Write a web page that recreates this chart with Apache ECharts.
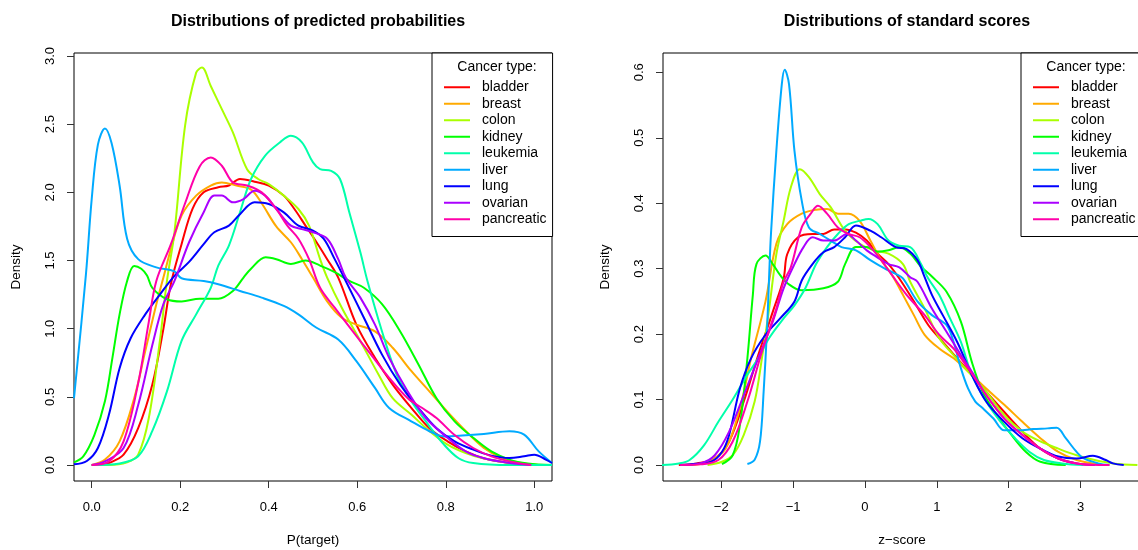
<!DOCTYPE html>
<html><head><meta charset="utf-8">
<script src="https://cdn.jsdelivr.net/npm/echarts@6/dist/echarts.min.js"></script>
<style>html,body{margin:0;padding:0;background:#fff}#c{width:1138px;height:550px}</style>
</head><body><div id="c"></div><script>
const cancerTypes = ['bladder','breast','colon','kidney','leukemia','liver','lung','ovarian','pancreatic'];
const colors = ['#FF0000','#FFAA00','#AAFF00','#00FF00','#00FFAA','#00AAFF','#0000FF','#AA00FF','#FF00AA'];

const probXTicks = [0, 0.2, 0.4, 0.6, 0.8, 1.0];
const probYTicks = [0, 0.5, 1.0, 1.5, 2.0, 2.5, 3.0];
const zXTicks = [-2, -1, 0, 1, 2, 3];
const zYTicks = [0, 0.1, 0.2, 0.3, 0.4, 0.5, 0.6];

// Left panel: density of predicted probabilities  [P(target), density]
const probBladder = [[0,0],[0.02,0.003],[0.039,0.015],[0.072,0.076],[0.105,0.27],[0.137,0.59],[0.162,1.0],[0.179,1.33],[0.203,1.62],[0.228,1.88],[0.253,2.0],[0.286,2.037],[0.31,2.05],[0.335,2.098],[0.368,2.078],[0.40,2.05],[0.434,1.976],[0.458,1.878],[0.483,1.756],[0.508,1.634],[0.532,1.51],[0.557,1.375],[0.598,1.03],[0.64,0.787],[0.68,0.59],[0.722,0.42],[0.763,0.27],[0.804,0.174],[0.845,0.10],[0.886,0.05],[0.944,0.015],[0.993,0]];
const probBreast = [[0,0],[0.03,0.04],[0.063,0.174],[0.096,0.49],[0.121,0.836],[0.146,1.18],[0.162,1.375],[0.179,1.585],[0.203,1.83],[0.236,1.976],[0.269,2.05],[0.294,2.073],[0.327,2.05],[0.36,2.02],[0.384,1.92],[0.417,1.75],[0.45,1.634],[0.475,1.51],[0.50,1.375],[0.532,1.20],[0.565,1.08],[0.598,1.03],[0.64,0.98],[0.68,0.86],[0.722,0.69],[0.763,0.54],[0.804,0.39],[0.845,0.25],[0.886,0.125],[0.928,0.05],[0.969,0.015],[1.01,0]];
const probColon = [[0,0],[0.039,0],[0.08,0.02],[0.105,0.076],[0.129,0.345],[0.154,0.91],[0.17,1.35],[0.187,1.707],[0.211,2.49],[0.236,2.878],[0.249,2.915],[0.269,2.78],[0.294,2.61],[0.319,2.44],[0.351,2.17],[0.376,2.098],[0.40,2.06],[0.434,1.976],[0.467,1.878],[0.491,1.756],[0.516,1.51],[0.532,1.375],[0.565,1.154],[0.607,0.91],[0.648,0.664],[0.68,0.49],[0.722,0.37],[0.763,0.25],[0.804,0.15],[0.845,0.088],[0.886,0.047],[0.944,0.015],[0.993,0]];
const probKidney = [[-0.04,0.02],[-0.019,0.064],[0.006,0.22],[0.03,0.47],[0.047,0.79],[0.063,1.105],[0.08,1.35],[0.096,1.46],[0.112,1.44],[0.125,1.39],[0.137,1.30],[0.17,1.216],[0.203,1.20],[0.244,1.22],[0.286,1.22],[0.319,1.277],[0.343,1.375],[0.36,1.44],[0.393,1.524],[0.417,1.51],[0.45,1.475],[0.483,1.50],[0.516,1.463],[0.549,1.415],[0.582,1.35],[0.615,1.30],[0.656,1.18],[0.697,0.98],[0.738,0.74],[0.779,0.49],[0.82,0.32],[0.862,0.20],[0.903,0.10],[0.944,0.04],[0.985,0.012],[1.04,0]];
const probLeukemia = [[0,0],[0.063,0.012],[0.105,0.064],[0.137,0.25],[0.17,0.54],[0.203,0.91],[0.236,1.105],[0.269,1.30],[0.286,1.463],[0.31,1.61],[0.335,1.854],[0.36,2.098],[0.392,2.27],[0.425,2.366],[0.45,2.415],[0.475,2.366],[0.50,2.22],[0.516,2.17],[0.541,2.158],[0.561,2.098],[0.582,1.854],[0.607,1.56],[0.623,1.35],[0.656,0.98],[0.689,0.664],[0.722,0.47],[0.755,0.32],[0.796,0.15],[0.829,0.05],[0.862,0.015],[0.944,0],[1.04,0]];
const probLiver = [[-0.04,0.49],[-0.013,1.40],[0,1.95],[0.014,2.35],[0.03,2.468],[0.045,2.36],[0.063,2.05],[0.08,1.66],[0.105,1.51],[0.146,1.45],[0.187,1.42],[0.203,1.37],[0.253,1.35],[0.286,1.326],[0.335,1.277],[0.384,1.228],[0.434,1.167],[0.467,1.105],[0.508,1.007],[0.557,0.92],[0.598,0.762],[0.64,0.566],[0.672,0.419],[0.722,0.321],[0.763,0.248],[0.796,0.21],[0.837,0.216],[0.886,0.228],[0.944,0.248],[0.977,0.223],[1.01,0.10],[1.04,0.015]];
const probLung = [[-0.04,0.005],[-0.011,0.03],[0.014,0.125],[0.039,0.37],[0.063,0.71],[0.088,0.93],[0.121,1.105],[0.154,1.25],[0.187,1.387],[0.22,1.49],[0.253,1.62],[0.277,1.707],[0.31,1.756],[0.335,1.84],[0.368,1.927],[0.40,1.915],[0.434,1.853],[0.467,1.756],[0.50,1.72],[0.524,1.66],[0.549,1.51],[0.574,1.35],[0.615,1.08],[0.656,0.81],[0.697,0.59],[0.738,0.42],[0.779,0.27],[0.82,0.174],[0.862,0.113],[0.903,0.069],[0.944,0.051],[0.977,0.064],[1.0,0.076],[1.026,0.04],[1.04,0.015]];
const probOvarian = [[0,0],[0.03,0.027],[0.072,0.125],[0.105,0.44],[0.137,0.88],[0.162,1.18],[0.187,1.35],[0.22,1.634],[0.253,1.854],[0.277,1.976],[0.294,1.976],[0.319,1.927],[0.343,1.951],[0.368,2.012],[0.392,1.976],[0.417,1.878],[0.45,1.756],[0.475,1.73],[0.50,1.707],[0.532,1.66],[0.557,1.51],[0.574,1.375],[0.607,1.228],[0.64,1.03],[0.672,0.787],[0.714,0.54],[0.755,0.345],[0.804,0.2],[0.845,0.10],[0.886,0.05],[0.944,0.015],[0.993,0]];
const probPancreatic = [[0,0],[0.039,0.027],[0.072,0.174],[0.105,0.60],[0.129,1.05],[0.146,1.35],[0.179,1.62],[0.211,1.92],[0.244,2.19],[0.269,2.256],[0.294,2.195],[0.319,2.073],[0.351,2.05],[0.384,2.0],[0.417,1.878],[0.442,1.756],[0.467,1.66],[0.491,1.51],[0.516,1.30],[0.549,1.154],[0.59,0.98],[0.631,0.81],[0.672,0.64],[0.714,0.49],[0.746,0.42],[0.779,0.345],[0.82,0.22],[0.862,0.125],[0.903,0.064],[0.944,0.027],[0.993,0]];

// Right panel: density of standard scores  [z-score, density]
const zBladder = [[-2.59,0],[-2.34,0.0025],[-2.09,0.01],[-1.89,0.036],[-1.686,0.097],[-1.485,0.168],[-1.283,0.234],[-1.132,0.285],[-1.082,0.322],[-0.931,0.348],[-0.73,0.353],[-0.579,0.353],[-0.428,0.36],[-0.277,0.36],[-0.126,0.355],[0.025,0.343],[0.176,0.323],[0.327,0.307],[0.478,0.285],[0.68,0.25],[0.88,0.214],[1.082,0.188],[1.283,0.163],[1.485,0.138],[1.686,0.112],[1.938,0.081],[2.19,0.051],[2.44,0.025],[2.69,0.01],[2.944,0.0025],[3.196,0]];
const zBreast = [[-2.44,0],[-2.19,0.005],[-1.94,0.025],[-1.74,0.087],[-1.585,0.163],[-1.384,0.25],[-1.233,0.338],[-1.082,0.368],[-0.88,0.384],[-0.68,0.39],[-0.528,0.391],[-0.377,0.384],[-0.226,0.384],[-0.075,0.373],[0.075,0.343],[0.226,0.313],[0.377,0.29],[0.528,0.26],[0.68,0.229],[0.83,0.199],[1.032,0.178],[1.233,0.163],[1.434,0.143],[1.686,0.117],[1.938,0.092],[2.19,0.066],[2.44,0.041],[2.69,0.02],[2.944,0.0076],[3.246,0.001],[3.4,0]];
const zColon = [[-2.19,0],[-1.99,0.005],[-1.84,0.015],[-1.686,0.046],[-1.535,0.097],[-1.434,0.163],[-1.333,0.239],[-1.233,0.322],[-1.132,0.373],[-1.032,0.424],[-0.906,0.452],[-0.78,0.44],[-0.629,0.414],[-0.478,0.394],[-0.277,0.358],[-0.075,0.338],[0.126,0.328],[0.327,0.323],[0.528,0.307],[0.629,0.28],[0.83,0.239],[1.032,0.194],[1.233,0.168],[1.434,0.143],[1.686,0.112],[1.938,0.076],[2.19,0.051],[2.44,0.036],[2.69,0.025],[2.944,0.015],[3.196,0.0076],[3.45,0.0025],[3.79,0]];
const zKidney = [[-1.99,0.0015],[-1.84,0.015],[-1.74,0.061],[-1.636,0.163],[-1.56,0.26],[-1.51,0.307],[-1.384,0.32],[-1.283,0.307],[-1.18,0.29],[-1.082,0.278],[-0.88,0.267],[-0.579,0.27],[-0.377,0.28],[-0.277,0.307],[-0.126,0.333],[0.025,0.333],[0.176,0.326],[0.327,0.328],[0.478,0.333],[0.629,0.323],[0.78,0.303],[0.931,0.288],[1.132,0.265],[1.334,0.219],[1.485,0.158],[1.636,0.112],[1.837,0.076],[2.038,0.046],[2.24,0.02],[2.44,0.005],[2.793,0]];
const zLeukemia = [[-2.85,0],[-2.59,0.0025],[-2.44,0.0076],[-2.24,0.03],[-2.04,0.066],[-1.84,0.10],[-1.636,0.138],[-1.485,0.163],[-1.333,0.194],[-1.132,0.224],[-0.981,0.244],[-0.83,0.27],[-0.68,0.307],[-0.528,0.333],[-0.377,0.353],[-0.226,0.368],[-0.075,0.373],[0.05,0.376],[0.176,0.368],[0.327,0.343],[0.478,0.335],[0.629,0.333],[0.78,0.307],[0.88,0.285],[1.032,0.26],[1.183,0.224],[1.334,0.188],[1.485,0.138],[1.686,0.097],[1.887,0.066],[2.088,0.041],[2.29,0.02],[2.49,0.0076],[2.74,0.0025],[3.04,0]];
const zLiver = [[-1.636,0.0015],[-1.535,0.008],[-1.46,0.036],[-1.41,0.112],[-1.36,0.214],[-1.333,0.29],[-1.308,0.353],[-1.233,0.48],[-1.157,0.582],[-1.117,0.604],[-1.057,0.582],[-0.981,0.48],[-0.88,0.404],[-0.78,0.363],[-0.629,0.353],[-0.478,0.343],[-0.327,0.333],[-0.126,0.328],[0.075,0.313],[0.277,0.30],[0.428,0.292],[0.528,0.285],[0.73,0.25],[0.931,0.229],[1.132,0.214],[1.233,0.188],[1.334,0.148],[1.434,0.117],[1.535,0.097],[1.636,0.087],[1.787,0.071],[1.938,0.053],[2.139,0.053],[2.34,0.055],[2.541,0.056],[2.667,0.057],[2.793,0.041],[2.944,0.02],[3.045,0.01],[3.246,0.0025],[3.4,0]];
const zLung = [[-2.57,0],[-2.34,0.002],[-2.14,0.005],[-1.99,0.02],[-1.89,0.046],[-1.74,0.117],[-1.585,0.163],[-1.384,0.199],[-1.18,0.224],[-0.981,0.25],[-0.88,0.282],[-0.73,0.307],[-0.579,0.325],[-0.428,0.333],[-0.277,0.348],[-0.126,0.366],[0.075,0.358],[0.226,0.348],[0.428,0.333],[0.579,0.33],[0.73,0.313],[0.83,0.287],[0.931,0.26],[1.082,0.229],[1.283,0.188],[1.485,0.138],[1.686,0.097],[1.938,0.066],[2.19,0.041],[2.44,0.025],[2.69,0.013],[2.944,0.01],[3.17,0.014],[3.35,0.0076],[3.45,0.0025],[3.6,0]];
const zOvarian = [[-2.57,0],[-2.29,0.0025],[-2.09,0.015],[-1.89,0.051],[-1.686,0.107],[-1.485,0.163],[-1.283,0.219],[-1.132,0.27],[-0.981,0.307],[-0.855,0.333],[-0.73,0.348],[-0.579,0.343],[-0.428,0.343],[-0.25,0.353],[-0.126,0.343],[0.025,0.328],[0.176,0.317],[0.327,0.307],[0.478,0.302],[0.629,0.287],[0.73,0.28],[0.931,0.239],[1.132,0.204],[1.334,0.168],[1.485,0.143],[1.686,0.107],[1.938,0.071],[2.19,0.046],[2.44,0.025],[2.69,0.01],[2.944,0.0025],[3.196,0]];
const zPancreatic = [[-2.57,0],[-2.29,0.001],[-2.04,0.0076],[-1.84,0.036],[-1.636,0.097],[-1.434,0.173],[-1.233,0.239],[-1.132,0.28],[-1.032,0.302],[-0.88,0.363],[-0.755,0.384],[-0.654,0.396],[-0.528,0.384],[-0.377,0.363],[-0.226,0.353],[-0.075,0.348],[0.075,0.333],[0.226,0.313],[0.377,0.29],[0.579,0.26],[0.83,0.229],[1.032,0.199],[1.233,0.178],[1.434,0.148],[1.686,0.107],[1.938,0.071],[2.19,0.046],[2.44,0.025],[2.69,0.01],[2.944,0.0025],[3.4,0]];

const probSeries = [probBladder, probBreast, probColon, probKidney, probLeukemia, probLiver, probLung, probOvarian, probPancreatic];
const zSeries = [zBladder, zBreast, zColon, zKidney, zLeukemia, zLiver, zLung, zOvarian, zPancreatic];

const FONT = '"Liberation Sans", Arial, Helvetica, sans-serif';
const tickTxt = {fontFamily: FONT, color: '#000', fontSize: 13};
const nameTxt = {fontFamily: FONT, color: '#000', fontSize: 13.5};
const legTxt = {fontFamily: FONT, color: '#000', fontSize: 14};

function xAx(grid, min, max, ticks, fmt, name) {
  return {
    type: 'value', gridIndex: grid, min: min, max: max,
    axisLine: {show: false, onZero: false}, splitLine: {show: false},
    axisTick: {show: true, length: 7, customValues: ticks, lineStyle: {color: '#333'}},
    axisLabel: Object.assign({customValues: ticks, formatter: fmt, margin: 20}, tickTxt),
    name: name, nameLocation: 'middle', nameGap: 52, nameTextStyle: nameTxt
  };
}
function yAx(grid, min, max, ticks, fmt) {
  return {
    type: 'value', gridIndex: grid, min: min, max: max,
    axisLine: {show: false, onZero: false}, splitLine: {show: false},
    axisTick: {show: true, length: 7, customValues: ticks, lineStyle: {color: '#333'}},
    axisLabel: Object.assign({customValues: ticks, formatter: fmt, margin: 17, rotate: 90}, tickTxt),
    name: 'Density', nameLocation: 'middle', nameGap: 51, nameTextStyle: nameTxt
  };
}
const fmt1 = v => v.toFixed(1);
const fmtZ = v => (v < 0 ? '\u2212' + Math.abs(v) : String(v));

function legendAt(left) {
  return {
    left: left, top: 53, orient: 'vertical', data: cancerTypes, icon: 'rect',
    itemWidth: 26, itemHeight: 2, itemGap: 0, padding: [26, 6, 9, 12],
    borderColor: '#000', borderWidth: 1, backgroundColor: '#fff', selectedMode: false,
    textStyle: Object.assign({lineHeight: 16.5, padding: [0, 0, 0, 7]}, legTxt)
  };
}

const series = [];
cancerTypes.forEach((name, i) => {
  series.push({name: name, type: 'line', xAxisIndex: 0, yAxisIndex: 0, data: probSeries[i],
    showSymbol: false, symbol: 'none', smooth: 0.35, clip: true,
    lineStyle: {color: colors[i], width: 2}, itemStyle: {color: colors[i]}, emphasis: {disabled: true}});
});
cancerTypes.forEach((name, i) => {
  series.push({name: name, type: 'line', xAxisIndex: 1, yAxisIndex: 1, data: zSeries[i],
    showSymbol: false, symbol: 'none', smooth: 0.35, clip: true,
    lineStyle: {color: colors[i], width: 2}, itemStyle: {color: colors[i]}, emphasis: {disabled: true}});
});

const chart = echarts.init(document.getElementById('c'), null, {renderer: 'canvas'});
chart.setOption({
  animation: false,
  backgroundColor: '#fff',
  title: [
    {text: 'Distributions of predicted probabilities', left: 313, top: 9, textAlign: 'center',
     textStyle: {fontFamily: FONT, fontSize: 16, fontWeight: 'bold', color: '#000'}},
    {text: 'Distributions of standard scores', left: 902, top: 9, textAlign: 'center',
     textStyle: {fontFamily: FONT, fontSize: 16, fontWeight: 'bold', color: '#000'}},
    {text: 'Cancer type:', left: 492, top: 55, textAlign: 'center', z: 10,
     textStyle: {fontFamily: FONT, fontSize: 14, fontWeight: 'normal', color: '#000'}},
    {text: 'Cancer type:', left: 1081, top: 55, textAlign: 'center', z: 10,
     textStyle: {fontFamily: FONT, fontSize: 14, fontWeight: 'normal', color: '#000'}}
  ],
  grid: [
    {left: 74, top: 53, width: 478, height: 428, show: true, borderColor: '#000', borderWidth: 1,
     backgroundColor: 'transparent', containLabel: false, outerBoundsMode: 'none'},
    {left: 663, top: 53, width: 478, height: 428, show: true, borderColor: '#000', borderWidth: 1,
     backgroundColor: 'transparent', containLabel: false, outerBoundsMode: 'none'}
  ],
  xAxis: [
    xAx(0, -0.04, 1.04, probXTicks, fmt1, 'P(target)'),
    xAx(1, -2.81, 3.84, zXTicks, fmtZ, 'z\u2212score')
  ],
  yAxis: [
    yAx(0, -0.117, 3.022, probYTicks, fmt1),
    yAx(1, -0.0244, 0.6295, zYTicks, fmt1)
  ],
  legend: [legendAt(432), legendAt(1021)],
  tooltip: {show: false},
  series: series
});
</script></body></html>
